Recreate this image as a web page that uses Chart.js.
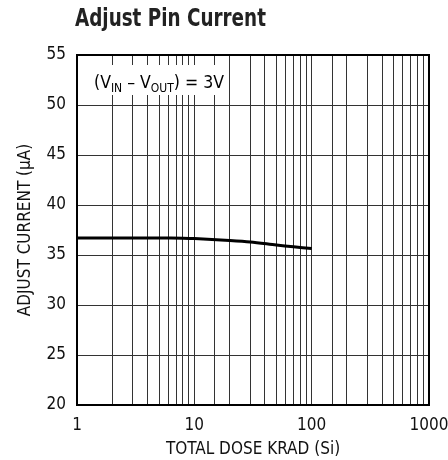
<!DOCTYPE html>
<html>
<head>
<meta charset="utf-8">
<script src="https://cdn.jsdelivr.net/npm/chart.js@4.4.1/dist/chart.umd.min.js"></script>
<style>
  html, body { margin: 0; padding: 0; background: #fff; }
  #wrap { width: 448px; height: 460px; position: relative; }
</style>
</head>
<body>
<div id="wrap"><canvas id="js_adjust_chart"></canvas></div>
<script>
// values
const doseKrad = [1, 2, 5, 8, 10, 20, 30, 50, 70, 100]
const adjustCurrent = [36.7, 36.7, 36.7, 36.68, 36.65, 36.45, 36.3, 36.0, 35.82, 35.65]
const xTickLabels = [1, 10, 100, 1000]
const yTickValues = [20, 25, 30, 35, 40, 45, 50, 55]

const FONT = "'Liberation Sans Narrow', 'DejaVu Sans Condensed', 'Liberation Sans', sans-serif"

// title, frame and the V_IN - V_OUT note
const decorations = {
  id: 'decorations',
  beforeDatasetsDraw(chart) {
    const ctx = chart.ctx
    const a = chart.chartArea
    ctx.save()
    // white box behind the note
    ctx.fillStyle = '#fff'
    ctx.fillRect(a.left + 11, a.top + 10, 140, 30)
    // note text with subscripts
    let x = a.left + 17
    const base = a.top + 33
    const parts = [
      ['(V', 17.5, 0], ['IN', 12, 4], [' \u2013 V', 17.5, 0], ['OUT', 12, 4], [') = 3V', 17.5, 0]
    ]
    ctx.fillStyle = '#000'
    ctx.textBaseline = 'alphabetic'
    parts.forEach(p => {
      ctx.font = p[1] + 'px ' + FONT
      ctx.fillText(p[0], x, base + p[2])
      x += ctx.measureText(p[0]).width
    })
    ctx.restore()
  },
  afterDraw(chart) {
    const ctx = chart.ctx
    const a = chart.chartArea
    ctx.save()
    ctx.strokeStyle = '#000'
    ctx.lineWidth = 2
    ctx.strokeRect(a.left, a.top, a.right - a.left, a.bottom - a.top)
    // squeeze the title a bit, the original face is a condensed one
    ctx.translate(75, 20)
    ctx.scale(0.85, 1)
    ctx.fillStyle = '#222'
    ctx.font = 'bold 24px ' + FONT
    ctx.textBaseline = 'middle'
    ctx.fillText('Adjust Pin Current', 0, 0)
    ctx.restore()
  }
}

function adjustChart() {
  const data = {
    datasets: [
      {
        label: 'Adjust current',
        data: doseKrad.map((d, i) => ({x: d, y: adjustCurrent[i]})),
        borderColor: '#000',
        borderWidth: 3,
        pointRadius: 0,
        tension: 0.3,
        fill: false,
      }
    ]
  }

  const options = {
    responsive: true,
    maintainAspectRatio: false,
    animation: false,
    layout: { padding: { left: 0, right: 19, top: 55, bottom: 0 } },
    plugins: { legend: { display: false }, tooltip: { enabled: false } },
    scales: {
      x: {
        type: 'logarithmic',
        min: 1,
        max: 1000,
        afterFit(scale) {
          scale.height = 55
          scale.paddingLeft = 0
          scale.paddingRight = 0
        },
        grid: { color: '#333', lineWidth: 1, drawTicks: false },
        border: { display: false },
        ticks: {
          autoSkip: false,
          maxRotation: 0,
          padding: 10,
          color: '#111',
          font: { family: FONT, size: 17 },
          callback: v => xTickLabels.includes(v) ? String(v) : ''
        },
        title: {
          display: true,
          text: 'TOTAL DOSE KRAD (Si)',
          color: '#111',
          font: { family: FONT, size: 17 },
          padding: { top: 0, bottom: 0 }
        }
      },
      y: {
        min: 20,
        max: 55,
        afterFit(scale) {
          scale.width = 77
          scale.paddingTop = 0
          scale.paddingBottom = 0
        },
        afterBuildTicks(scale) { scale.ticks = yTickValues.map(v => ({value: v})) },
        grid: { color: '#333', lineWidth: 1, drawTicks: false },
        border: { display: false },
        ticks: {
          padding: 11,
          color: '#111',
          font: { family: FONT, size: 17 }
        },
        title: {
          display: true,
          text: 'ADJUST CURRENT (\u00b5A)',
          color: '#111',
          font: { family: FONT, size: 17 },
          padding: { top: 15, bottom: 0 }
        }
      }
    }
  }

  const ctx = document.getElementById('js_adjust_chart').getContext('2d')
  const chart = new Chart(ctx, { type: 'line', data, options, plugins: [decorations] })
}

adjustChart()
</script>
</body>
</html>
